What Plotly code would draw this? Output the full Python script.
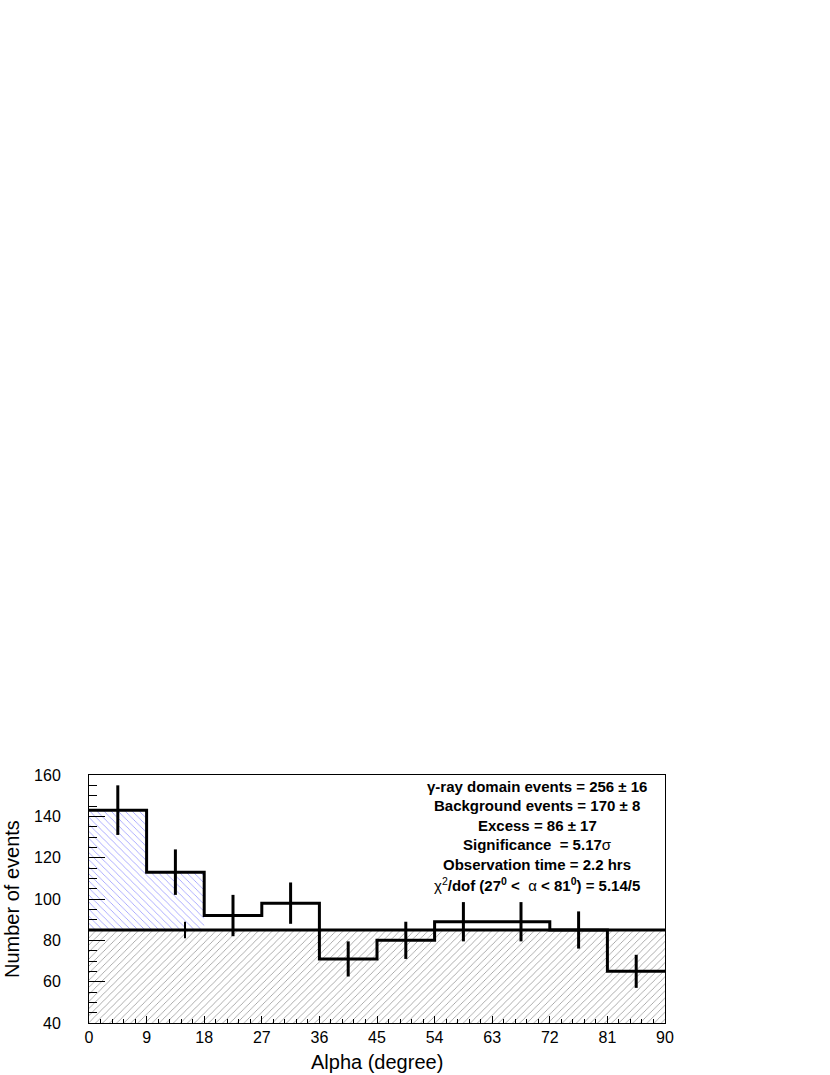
import numpy as np
import plotly.graph_objects as go

# Alpha histogram (bins of 9 degrees)
bin_edges = [0, 9, 18, 27, 36, 45, 54, 63, 72, 81, 90]
counts = [143, 113, 92, 98, 71, 80, 89, 89, 85, 65]
count_errors = [12, 11, 10, 10, 8.5, 9, 9.5, 9.5, 9, 8]

# flat background fit (27 < alpha < 81)
background_level = 85
background_error = 4
background_err_x = 15
signal_bins = 2  # gamma-ray domain: 0-18 deg

stats_lines = [
    '<b>γ-ray domain events = 256 ± 16</b>',
    '<b>Background events = 170 ± 8</b>',
    '<b>Excess = 86 ± 17</b>',
    '<b>Significance  = 5.17</b>σ',
    '<b>Observation time = 2.2 hrs</b>',
    'χ<sup>2</sup><b>/dof (27<sup>0</sup> <  </b>α<b> < 81<sup>0</sup>) = 5.14/5</b>',
]

FONT = 'Liberation Sans, Arial, sans-serif'

centers = [(a + b) / 2 for a, b in zip(bin_edges[:-1], bin_edges[1:])]

# polygon of excess over background in the signal bins
ex_x, ex_y = [bin_edges[0]], [background_level]
for i in range(signal_bins):
    ex_x += [bin_edges[i], bin_edges[i + 1]]
    ex_y += [counts[i], counts[i]]
ex_x.append(bin_edges[signal_bins])
ex_y.append(background_level)

fig = go.Figure()

# hatched background band
fig.add_trace(go.Scatter(
    x=[bin_edges[0], bin_edges[-1]],
    y=[background_level, background_level],
    mode='lines',
    line=dict(width=0),
    fill='tozeroy',
    fillcolor='rgba(0,0,0,0)',
    fillpattern=dict(shape='/', fgcolor='#333333', bgcolor='white', size=5, solidity=0.16),
    hoverinfo='skip',
    showlegend=False,
))

# hatched excess
fig.add_trace(go.Scatter(
    x=ex_x, y=ex_y,
    mode='lines',
    line=dict(width=0),
    fill='toself',
    fillcolor='rgba(0,0,0,0)',
    fillpattern=dict(shape='\\', fgcolor='#3333ff', bgcolor='white', size=5, solidity=0.16),
    hoverinfo='skip',
    showlegend=False,
))

# background line
fig.add_trace(go.Scatter(
    x=[bin_edges[0], bin_edges[-1]],
    y=[background_level, background_level],
    mode='lines',
    line=dict(color='black', width=3),
    showlegend=False,
))

fig.add_trace(go.Scatter(
    x=[background_err_x], y=[background_level],
    mode='markers',
    marker=dict(size=1, color='black'),
    error_y=dict(type='data', array=[background_error], thickness=2, width=0, color='black'),
    showlegend=False,
))

# histogram steps
fig.add_trace(go.Scatter(
    x=bin_edges,
    y=counts + [counts[-1]],
    mode='lines',
    line=dict(color='black', width=3, shape='hv'),
    showlegend=False,
))

# error bars
fig.add_trace(go.Scatter(
    x=centers, y=counts,
    mode='markers',
    marker=dict(size=1, color='black'),
    error_y=dict(type='data', array=count_errors, thickness=3, width=0, color='black'),
    showlegend=False,
))

for i, txt in enumerate(stats_lines):
    fig.add_annotation(
        x=0.778, y=1, xref='paper', yref='paper',
        xanchor='center', yanchor='middle',
        yshift=-11 - 19.6 * i,
        text=txt, showarrow=False,
        font=dict(family=FONT, size=15, color='black'),
    )

# axis titles
fig.add_annotation(
    x=0.5, y=0, xref='paper', yref='paper',
    xanchor='center', yanchor='middle', yshift=-39,
    text='Alpha (degree)', showarrow=False,
    font=dict(family=FONT, size=20, color='black'),
)
fig.add_annotation(
    x=0, y=0.5, xref='paper', yref='paper',
    xanchor='center', yanchor='middle', xshift=-77,
    textangle=-90,
    text='Number of events', showarrow=False,
    font=dict(family=FONT, size=20, color='black'),
)

fig.update_layout(
    width=830, height=1075,
    margin=dict(l=89, r=165, t=775, b=52, autoexpand=False),
    paper_bgcolor='white',
    plot_bgcolor='white',
    font=dict(family=FONT, color='black'),
    xaxis=dict(
        range=[0, 90],
        tickvals=bin_edges,
        ticks='inside', ticklen=7, tickcolor='black',
        minor=dict(ticks='inside', dtick=1.8, ticklen=4, tickcolor='black'),
        showline=True, linecolor='black', linewidth=1, mirror=True,
        showgrid=False, zeroline=False, automargin=False,
        tickfont=dict(size=16),
    ),
    yaxis=dict(
        range=[40, 160],
        dtick=20,
        ticks='inside', ticklen=16, tickcolor='black',
        minor=dict(ticks='inside', dtick=5, ticklen=8, tickcolor='black'),
        showline=True, linecolor='black', linewidth=1, mirror=True,
        showgrid=False, zeroline=False, automargin=False,
        tickfont=dict(size=16),
        ticklabelstandoff=24,
    ),
)

# drop the default 8px page margin so the figure sits at the window's corner
fig.write_html(
    'out.html',
    config={'displayModeBar': False},
    post_script="document.body.style.margin = '0px';",
)
